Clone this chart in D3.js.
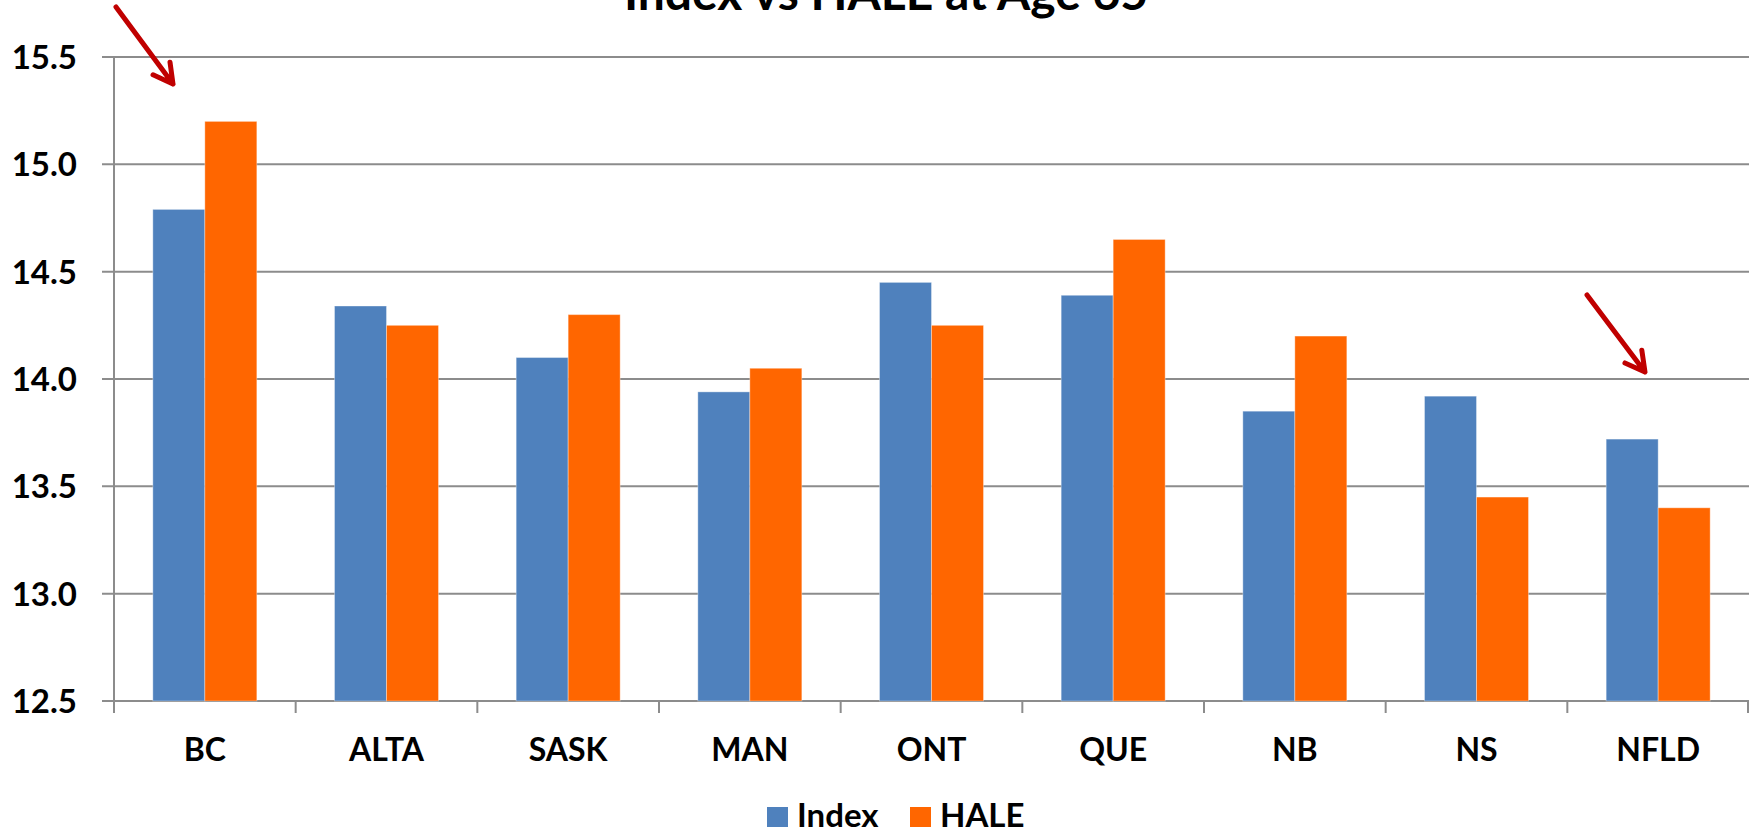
<!DOCTYPE html>
<html lang="en">
<head>
    <meta charset="UTF-8">
    <title>Index vs HALE at Age 65</title>
    <script src="https://d3js.org/d3.v7.min.js"></script>
    <style>
        body { margin: 0; background: #fff; }
        text { font-family: Lato, "Open Sans", sans-serif; font-weight: 700; fill: #000; }
        .grid line { stroke: #8c8c8c; stroke-width: 2; }
        .arrow { stroke: #c00000; stroke-width: 5; fill: none; stroke-linecap: round; stroke-linejoin: round; }
    </style>
</head>
<body>
    <div id="chart"></div>
    <script>
        const provinces = ["BC", "ALTA", "SASK", "MAN", "ONT", "QUE", "NB", "NS", "NFLD"];
        const series = ["Index", "HALE"];
        const indexValues = [14.79, 14.34, 14.10, 13.94, 14.45, 14.39, 13.85, 13.92, 13.72];
        const haleValues = [15.20, 14.25, 14.30, 14.05, 14.25, 14.65, 14.20, 13.45, 13.40];
        const yTicks = [12.5, 13.0, 13.5, 14.0, 14.5, 15.0, 15.5];
        const colors = { Index: "#4f81bd", HALE: "#ff6600" };
        // arrows pointing at BC and NFLD (start / tip in px)
        const arrows = [
            { x1: 116, y1: 7, x2: 173, y2: 84 },
            { x1: 1587, y1: 295, x2: 1645, y2: 372 }
        ];

        const W = 1750, H = 833;
        const margin = { top: 57, right: 1, bottom: 132, left: 114 };
        const width = W - margin.left - margin.right;
        const height = H - margin.top - margin.bottom;

        const rows = provinces.map((p, i) => ({ p, Index: indexValues[i], HALE: haleValues[i] }));

        const svg = d3.select("#chart").append("svg")
            .attr("width", W)
            .attr("height", H);

        svg.append("text")
            .attr("x", 886)
            .attr("y", 10)
            .attr("text-anchor", "middle")
            .style("font-size", "48px")
            .text("Index vs HALE at Age 65");

        const g = svg.append("g").attr("transform", `translate(${margin.left},${margin.top})`);

        const x0 = d3.scaleBand().domain(provinces).range([0, width]).padding(0);
        const x1 = d3.scaleBand().domain(series).range([0, x0.bandwidth()])
            .paddingInner(0).paddingOuter(0.747);
        const y = d3.scaleLinear().domain([12.5, 15.5]).range([height, 0]);

        // gridlines + y labels
        const grid = g.append("g").attr("class", "grid");
        grid.selectAll("line")
            .data(yTicks)
            .join("line")
            .attr("x1", -12)
            .attr("x2", width)
            .attr("y1", d => y(d))
            .attr("y2", d => y(d));

        g.append("g").selectAll("text")
            .data(yTicks)
            .join("text")
            .attr("x", -37)
            .attr("y", d => y(d))
            .attr("dy", "0.36em")
            .attr("text-anchor", "end")
            .style("font-size", "33px")
            .text(d => d.toFixed(1));

        // bars
        g.append("g").selectAll("g")
            .data(rows)
            .join("g")
            .attr("transform", d => `translate(${x0(d.p)},0)`)
            .selectAll("rect")
            .data(d => series.map(s => ({ s, v: d[s] })))
            .join("rect")
            .attr("x", d => x1(d.s))
            .attr("width", x1.bandwidth())
            .attr("y", d => y(d.v))
            .attr("height", d => y(12.5) - y(d.v))
            .attr("fill", d => colors[d.s])
            .attr("stroke", "#ffffff")
            .attr("stroke-opacity", 0.35)
            .attr("stroke-width", 1);

        // axes lines
        const axis = g.append("g").attr("class", "grid");
        axis.append("line").attr("x1", 0).attr("x2", 0).attr("y1", 0).attr("y2", height);
        const bounds = provinces.map(p => x0(p)).concat([width - 1]);
        axis.selectAll(".tk")
            .data(bounds)
            .join("line")
            .attr("class", "tk")
            .attr("x1", d => d).attr("x2", d => d)
            .attr("y1", height).attr("y2", height + 12);

        g.append("g").selectAll("text")
            .data(provinces)
            .join("text")
            .attr("x", d => x0(d) + x0.bandwidth() / 2)
            .attr("y", height + 60)
            .attr("text-anchor", "middle")
            .style("font-size", "32px")
            .text(d => d);

        // legend
        const legend = svg.append("g").attr("transform", "translate(767,807)");
        const items = [{ s: "Index", x: 0 }, { s: "HALE", x: 143 }];
        items.forEach(it => {
            legend.append("rect")
                .attr("x", it.x).attr("y", 0)
                .attr("width", 21).attr("height", 20)
                .attr("fill", colors[it.s]);
            legend.append("text")
                .attr("x", it.x + 30).attr("y", 20)
                .style("font-size", "33px")
                .text(it.s);
        });

        // red arrows
        arrows.forEach(a => {
            const ang = Math.atan2(a.y2 - a.y1, a.x2 - a.x1);
            const len = 22, spread = 0.5;
            const p1 = [a.x2 - len * Math.cos(ang - spread), a.y2 - len * Math.sin(ang - spread)];
            const p2 = [a.x2 - len * Math.cos(ang + spread), a.y2 - len * Math.sin(ang + spread)];
            svg.append("path")
                .attr("class", "arrow")
                .attr("d", `M${a.x1},${a.y1}L${a.x2},${a.y2}M${p1[0]},${p1[1]}L${a.x2},${a.y2}L${p2[0]},${p2[1]}`);
        });
    </script>
</body>
</html>
